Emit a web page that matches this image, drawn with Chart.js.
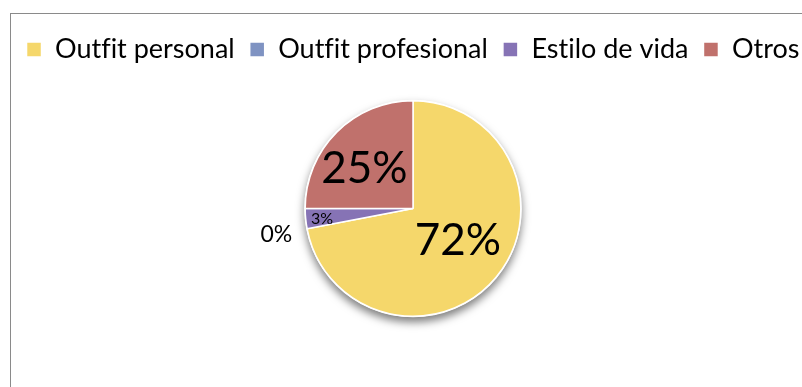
<!DOCTYPE html>
<html>
<head>
<meta charset="utf-8">
<script src="https://cdn.jsdelivr.net/npm/chart.js@4.4.0/dist/chart.umd.min.js"></script>
<style>
  html, body { margin: 0; padding: 0; background: #fff; overflow: hidden; width: 802px; height: 387px; }
  #frame {
    position: absolute; left: 10px; top: 13px;
    width: 804px; height: 400px;
    border: 1.5px solid #8a8a8a;
    background: #fff;
  }
</style>
</head>
<body>
<div id="frame"><canvas id="pie"></canvas></div>
<script>
const categories = ['Outfit personal', 'Outfit profesional', 'Estilo de vida', 'Otros'];
const shares = [72, 0, 3, 25];
const sliceColors = ['#f5d76b', '#7f93c2', '#8673b5', '#c0716c'];

// label look per slice: font size, distance along the radius, small turn off the mid-angle
const labelSizes = [44, 23, 16, 44];
const labelRadius = [0.51, 1.29, 0.85, 0.58];
const labelTurn = [-0.073, 0, -0.021, -0.108];

// plain glyphs, no "fi" ligature in the legend
const plainText = {
  id: 'plainText',
  beforeUpdate(chart) {
    chart.ctx.textRendering = 'optimizeSpeed';
    chart.ctx.fontVariantLigatures = 'none';
  },
  beforeDraw(chart) {
    chart.ctx.textRendering = 'optimizeSpeed';
    chart.ctx.fontVariantLigatures = 'none';
  },
};

const pieShadow = {
  id: 'pieShadow',
  beforeDatasetsDraw(chart) {
    const arc = chart.getDatasetMeta(0).data[0];
    if (!arc) return;
    const { ctx } = chart;
    ctx.save();
    ctx.shadowColor = 'rgba(0,0,0,0.5)';
    ctx.shadowBlur = 8;
    ctx.shadowOffsetY = 5;
    ctx.shadowOffsetX = 0;
    ctx.fillStyle = '#ffffff';
    ctx.beginPath();
    ctx.arc(arc.x, arc.y, arc.outerRadius + 1, 0, Math.PI * 2);
    ctx.fill();
    ctx.restore();
  },
};

const pctLabels = {
  id: 'pctLabels',
  afterDatasetsDraw(chart) {
    const { ctx } = chart;
    const meta = chart.getDatasetMeta(0);
    ctx.save();
    ctx.fillStyle = '#000';
    ctx.textAlign = 'center';
    ctx.textBaseline = 'middle';
    meta.data.forEach((arc, i) => {
      const mid = (arc.startAngle + arc.endAngle) / 2 + labelTurn[i];
      const r = arc.outerRadius * labelRadius[i];
      const x = arc.x + Math.cos(mid) * r;
      const y = arc.y + Math.sin(mid) * r;
      ctx.font = `${labelSizes[i]}px Lato, "Open Sans", sans-serif`;
      ctx.fillText(`${shares[i]}%`, x, y);
    });
    ctx.restore();
  },
};

new Chart(document.getElementById('pie'), {
  type: 'pie',
  data: {
    labels: categories,
    datasets: [{
      data: shares,
      backgroundColor: sliceColors,
      borderColor: '#ffffff',
      borderWidth: 1.5,
      radius: '80%',
    }],
  },
  options: {
    responsive: true,
    maintainAspectRatio: false,
    animation: false,
    layout: { padding: { top: 7, bottom: 70 } },
    plugins: {
      legend: {
        position: 'top',
        labels: {
          color: '#000',
          font: { family: 'Lato', size: 27 },
          boxWidth: 15,
          boxHeight: 15,
          padding: 15,
        },
      },
      tooltip: { enabled: false },
    },
  },
  plugins: [plainText, pieShadow, pctLabels],
});
</script>
</body>
</html>
